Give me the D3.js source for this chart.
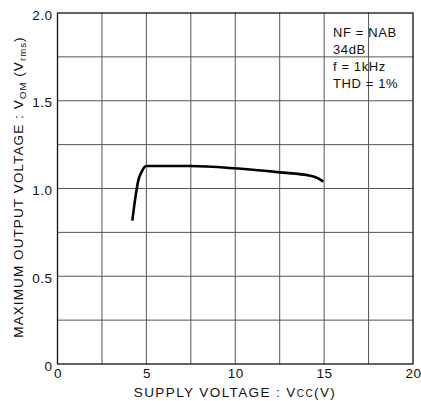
<!DOCTYPE html>
<html><head><meta charset="utf-8">
<script src="https://cdn.jsdelivr.net/npm/d3@7"></script>
<style>body{margin:0;background:#fff}svg{display:block}text{font-family:"Liberation Sans",Arial,sans-serif;fill:#111}</style>
</head><body><svg id="c" width="421" height="401"></svg>
<script>
const vcc = [4.21, 4.36, 4.55, 4.74, 4.98, 7.45, 9.99, 12.52, 14.21, 14.67, 14.95];
const vom = [0.817, 0.934, 1.048, 1.096, 1.128, 1.128, 1.115, 1.092, 1.073, 1.058, 1.039];
const xTicks = [0, 5, 10, 15, 20];
const yTicks = [0, 0.5, 1.0, 1.5, 2.0];
const yTickLabels = ["0", "0.5", "1.0", "1.5", "2.0"];
const xGrid = [2.5, 5, 7.5, 10, 12.5, 15, 17.5];
const yGrid = [0.25, 0.5, 0.75, 1.0, 1.25, 1.5, 1.75];
const notes = ["NF = NAB", "34dB", "f = 1kHz", "THD = 1%"];

const svg = d3.select("#c");
const x = d3.scaleLinear().domain([0, 20]).range([57.5, 413]);
const y = d3.scaleLinear().domain([0, 2]).range([364, 13]);

const g = svg.append("g");
g.selectAll("line.vg").data(xGrid).join("line")
  .attr("x1", d => x(d)).attr("x2", d => x(d)).attr("y1", y(0)).attr("y2", y(2))
  .attr("stroke", "#555").attr("stroke-width", 1);
g.selectAll("line.hg").data(yGrid).join("line")
  .attr("y1", d => y(d)).attr("y2", d => y(d)).attr("x1", x(0)).attr("x2", x(20))
  .attr("stroke", "#555").attr("stroke-width", 1);
g.append("rect").attr("x", x(0)).attr("y", y(2)).attr("width", x(20) - x(0)).attr("height", y(0) - y(2))
  .attr("fill", "none").attr("stroke", "#111").attr("stroke-width", 1.3);

const xa = svg.append("g").attr("transform", `translate(0,${y(0)})`)
  .call(d3.axisBottom(x).tickValues(xTicks).tickSize(0).tickPadding(4).tickFormat(d3.format("d")));
xa.select(".domain").remove();
xa.selectAll("text").attr("font-size", 13.5).attr("font-family", "Liberation Sans, Arial, sans-serif").attr("fill", "#111").style("letter-spacing", "0.5px");

const ya = svg.append("g").attr("transform", `translate(${x(0)},0)`)
  .call(d3.axisLeft(y).tickValues(yTicks).tickSize(0).tickPadding(5).tickFormat((d, i) => yTickLabels[i]));
ya.select(".domain").remove();
ya.selectAll("text").attr("font-size", 13.5).attr("dy", "0.45em").attr("font-family", "Liberation Sans, Arial, sans-serif").attr("fill", "#111").style("letter-spacing", "0.5px");

const line = d3.line().x((d, i) => x(vcc[i])).y(d => y(d)).curve(d3.curveMonotoneX);
svg.append("path").datum(vom).attr("d", line).attr("fill", "none").attr("stroke", "#000").attr("stroke-width", 2.6);

// x label
const xl = svg.append("text").attr("x", 235).attr("y", 397).attr("text-anchor", "middle").attr("font-size", 13.5).style("letter-spacing", "1.4px");
xl.append("tspan").text("SUPPLY VOLTAGE : V");
xl.append("tspan").attr("font-size", 10).text("CC");
xl.append("tspan").text("(V)");

// y label
const yl = svg.append("text").attr("transform", "translate(23,187) rotate(-90)").attr("text-anchor", "middle").attr("font-size", 13.5).style("letter-spacing", "1.1px");
yl.append("tspan").text("MAXIMUM OUTPUT VOLTAGE : V");
yl.append("tspan").attr("font-size", 9.5).attr("dy", 3).text("OM");
yl.append("tspan").attr("dy", -3).text(" (V");
yl.append("tspan").attr("font-size", 9.5).attr("dy", 3).text("rms");
yl.append("tspan").attr("dy", -3).text(")");

svg.selectAll("text.note").data(notes).join("text").attr("class", "note")
  .attr("x", 333).attr("y", (d, i) => 37 + i * 17).attr("font-size", 13).style("letter-spacing", "0.6px").text(d => d);
</script></body></html>
